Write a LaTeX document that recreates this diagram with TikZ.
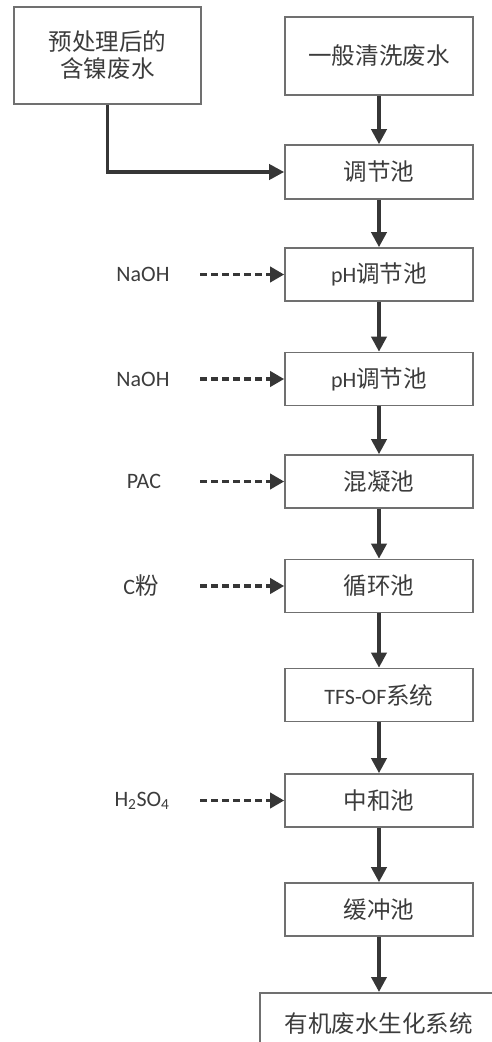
\documentclass[tikz,border=0pt]{standalone}
\usepackage{fontspec}
\setmainfont{Carlito}
\newfontfamily\cjk[Scale=1.07]{Noto Sans CJK SC}
\usetikzlibrary{arrows.meta}
\definecolor{boxgray}{HTML}{707070}
\definecolor{txtgray}{HTML}{3C3C3C}
\definecolor{flowgray}{HTML}{363636}
\tikzset{
  stage/.style={draw=boxgray, line width=1.6pt, fill=white, minimum width=188pt,
    minimum height=53pt, inner sep=0pt, text=txtgray, align=center,
    font=\fontsize{22pt}{27pt}\selectfont},
  chem/.style={text=txtgray, inner sep=0pt, font=\fontsize{22pt}{27pt}\selectfont},
  flow/.style={draw=flowgray, line width=3.6pt,
    -{Triangle[length=15pt,width=15pt]}},
  dose/.style={draw=flowgray, line width=3.8pt, dash pattern=on 7pt off 4pt,
    -{Triangle[length=14pt,width=15pt]}}
}
\begin{document}
\begin{tikzpicture}[x=1pt,y=-1pt]
\useasboundingbox (0,0) rectangle (492,1042);
\clip (0,0) rectangle (492,1042);

% sources
\node[stage, minimum width=187pt, minimum height=97pt] (pre) at (107.5,55.5)
  {{\cjk 预处理后的}\\{\cjk 含镍废水}};
\node[stage, minimum height=78pt] (gen) at (379,56) {\cjk 一般清洗废水};

% treatment line
\node[stage, minimum height=54pt] (eq)  at (379,172) {\cjk 调节池};
\node[stage] (ph1) at (379,274.5) {pH{\cjk 调节池}};
\node[stage] (ph2) at (379,379)   {pH{\cjk 调节池}};
\node[stage] (coa) at (379,481.5) {\cjk 混凝池};
\node[stage] (cyc) at (379,586)   {\cjk 循环池};
\node[stage] (tfs) at (379,695)   {TFS-OF{\cjk 系统}};
\node[stage] (neu) at (379,800.5) {\cjk 中和池};
\node[stage] (buf) at (379,909.5) {\cjk 缓冲池};
\node[stage, minimum width=238pt, minimum height=62pt, anchor=north west]
  (bio) at (259,992) {\cjk 有机废水生化系统};

% dosing chemicals
\node[chem] (c1) at (143,274.5) {NaOH};
\node[chem] (c2) at (143,379)   {NaOH};
\node[chem] (c3) at (144,481.5) {PAC};
\node[chem] (c4) at (141,586)   {C{\cjk 粉}};
\node[chem] (c5) at (142,800.5) {H\textsubscript{2}SO\textsubscript{4}};

% main flow
\draw[flow] (pre.south) |- (eq.west);
\draw[flow] (gen) -- (eq);
\draw[flow] (eq) -- (ph1);
\draw[flow] (ph1) -- (ph2);
\draw[flow] (ph2) -- (coa);
\draw[flow] (coa) -- (cyc);
\draw[flow] (cyc) -- (tfs);
\draw[flow] (tfs) -- (neu);
\draw[flow] (neu) -- (buf);
\draw[flow] (buf.south) -- (buf.south |- bio.north);

% dosing lines start on a common left column
\coordinate (dx) at (200,0);
\foreach \t in {ph1, ph2, coa, cyc, neu}
  \draw[dose] (\t.west -| dx) -- (\t.west);
\end{tikzpicture}
\end{document}
